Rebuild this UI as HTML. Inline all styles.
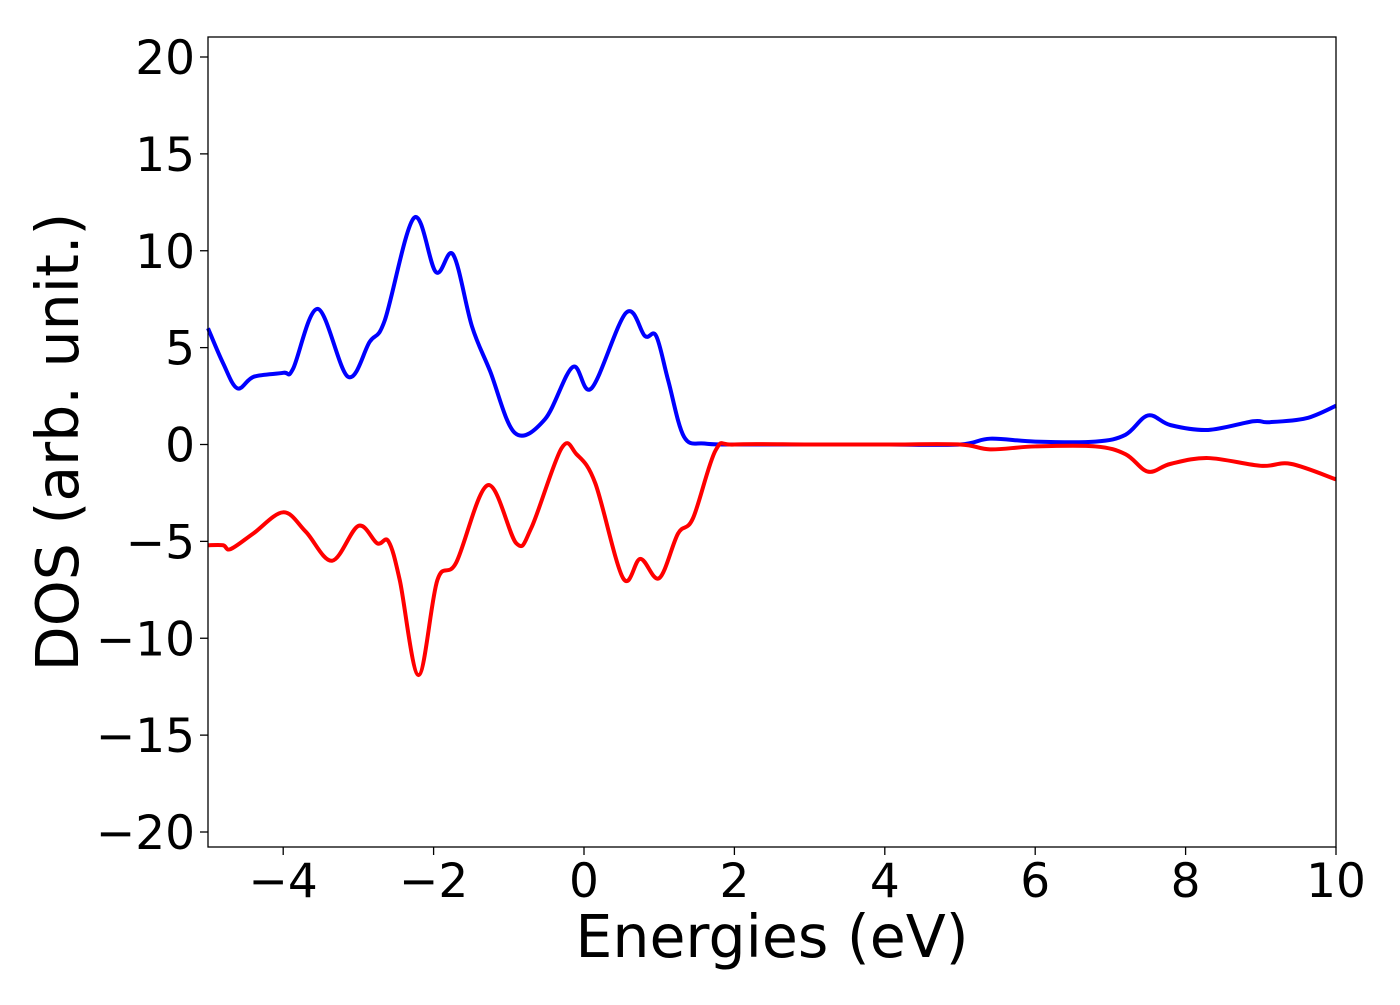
<!DOCTYPE html>
<html><head><meta charset="utf-8"><style>
html,body{margin:0;padding:0;background:#fff;}
svg text{font-family:"DejaVu Sans","Liberation Sans",sans-serif;fill:#000;}
</style></head><body>
<svg id="chart" width="1400" height="1000" xmlns="http://www.w3.org/2000/svg">
<g id="axes"></g>
<g id="series"></g>
<rect x="208" y="37" width="1128" height="810" fill="none" stroke="#000" stroke-width="1.3"/>
<text x="772" y="957" font-size="58.5" text-anchor="middle">Energies (eV)</text>
<text transform="translate(78,442) rotate(-90)" font-size="58.5" text-anchor="middle">DOS (arb. unit.)</text>
</svg>
<script>
const xTicks = [-4,-2,0,2,4,6,8,10];
const yTicks = [-20,-15,-10,-5,0,5,10,15,20];
const upX = [-5,-4.8,-4.61,-4.39,-4.0,-3.87,-3.54,-3.14,-2.85,-2.65,-2.26,-1.97,-1.74,-1.49,-1.25,-0.92,-0.52,-0.15,0.1,0.56,0.81,0.96,1.12,1.33,1.6,2,3,4,5,5.4,6,6.8,7.2,7.5,7.8,8.3,8.9,9.1,9.6,10];
const upY = [6.0,4.2,2.9,3.5,3.7,3.9,7.0,3.5,5.3,6.4,11.7,8.9,9.8,6.1,3.8,0.6,1.3,4.0,2.9,6.8,5.6,5.6,3.3,0.4,0.05,0,0,0,0,0.3,0.15,0.15,0.5,1.5,1.0,0.75,1.2,1.15,1.35,2.0];
const dnX = [-5,-4.8,-4.7,-4.4,-4.0,-3.7,-3.35,-3.0,-2.75,-2.6,-2.45,-2.2,-1.95,-1.7,-1.28,-0.9,-0.7,-0.3,-0.1,0.15,0.52,0.75,1.0,1.25,1.45,1.75,2,3,4,5,5.4,6,6.8,7.2,7.5,7.8,8.3,9,9.4,10];
const dnY = [-5.2,-5.2,-5.4,-4.6,-3.5,-4.5,-6.0,-4.2,-5.1,-5.0,-7.0,-11.9,-7.0,-6.1,-2.1,-5.1,-4.3,-0.2,-0.5,-2.0,-6.9,-5.9,-6.9,-4.6,-3.8,-0.3,0,0,0,0,-0.25,-0.1,-0.1,-0.5,-1.4,-1.0,-0.7,-1.1,-1.0,-1.8];

const X0=208,X1=1336,Y0=37,Y1=847;
const sx = v => X0 + (v+5)/15*(X1-X0);
const sy = v => 444.5 - v*19.375;
const NS="http://www.w3.org/2000/svg";
const axes=document.getElementById('axes');
function mk(tag,attrs,parent){const e=document.createElementNS(NS,tag);for(const k in attrs)e.setAttribute(k,attrs[k]);parent.appendChild(e);return e;}
xTicks.forEach(t=>{
  const l=mk('line',{x1:sx(t),x2:sx(t),y1:Y1,y2:Y1+8,stroke:'#000','stroke-width':1.3},axes);
  
  
  const tx=mk('text',{x:sx(t),y:Y1+50,'font-size':47,'text-anchor':'middle'},axes);
  tx.textContent=(t<0?'\u2212'+(-t):''+t);
  
  
});
yTicks.forEach(t=>{
  const l=mk('line',{x1:X0-8,x2:X0,y1:sy(t),y2:sy(t),stroke:'#000','stroke-width':1.3},axes);
  
  
  const tx=mk('text',{x:X0-13,y:sy(t)+17,'font-size':47,'text-anchor':'end'},axes);
  tx.textContent=(t<0?'\u2212'+(-t):''+t);
  
  
});
function pathFor(xs,ys){
  const p=xs.map((x,i)=>[sx(x),sy(ys[i])]);
  let d='M'+p[0][0]+','+p[0][1];
  for(let i=0;i<p.length-1;i++){
    const p0=p[Math.max(0,i-1)],p1=p[i],p2=p[i+1],p3=p[Math.min(p.length-1,i+2)];
    const c1=[p1[0]+(p2[0]-p0[0])/6,p1[1]+(p2[1]-p0[1])/6];
    const c2=[p2[0]-(p3[0]-p1[0])/6,p2[1]-(p3[1]-p1[1])/6];
    d+=' C'+c1+' '+c2+' '+p2;
  }
  return d;
}
const series=document.getElementById('series');
const up=mk('path',{d:pathFor(upX,upY),fill:'none',stroke:'#0000ff','stroke-width':4,'stroke-linejoin':'round'},series);


const dn=mk('path',{d:pathFor(dnX,dnY),fill:'none',stroke:'#ff0000','stroke-width':4,'stroke-linejoin':'round'},series);


</script>
</body></html>
